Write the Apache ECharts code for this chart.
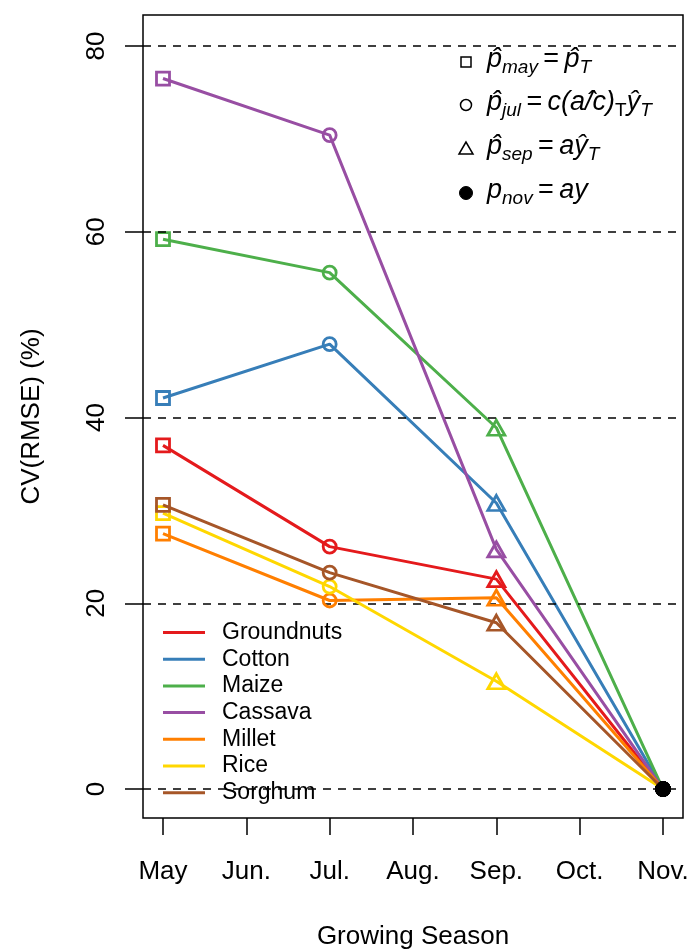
<!DOCTYPE html>
<html>
<head>
<meta charset="utf-8">
<script src="https://cdn.jsdelivr.net/npm/echarts@6/dist/echarts.min.js"></script>
<style>
html,body{margin:0;padding:0;background:#fff;}
#chart{width:692px;height:950px;}
</style>
</head>
<body>
<div id="chart"></div>
<script>
// ---- data ----
const months = ['May', 'Jun.', 'Jul.', 'Aug.', 'Sep.', 'Oct.', 'Nov.'];
const monthIdx = [0, 1, 2, 3, 4, 5, 6];
const obsIdx = [0, 2, 4, 6]; // May, Jul., Sep., Nov.
const crops = ['Groundnuts', 'Cotton', 'Maize', 'Cassava', 'Millet', 'Rice', 'Sorghum'];
const groundnuts = [37.0, 26.1, 22.6, 0];
const cotton     = [42.1, 47.9, 30.8, 0];
const maize      = [59.2, 55.6, 38.9, 0];
const cassava    = [76.5, 70.4, 25.8, 0];
const millet     = [27.5, 20.3, 20.6, 0];
const rice       = [29.7, 21.8, 11.6, 0];
const sorghum    = [30.6, 23.3, 17.9, 0];
const yTicks = [0, 20, 40, 60, 80];
const refLines = [0, 20, 40, 60, 80];

// ---- styles ----
const values = [groundnuts, cotton, maize, cassava, millet, rice, sorghum];
const colors = ['#E41A1C', '#377EB8', '#4DAF4A', '#984EA3', '#FF7F00', '#FFD700', '#A65628'];
const FONT = '"Liberation Sans", Arial, Helvetica, sans-serif';
const pointSymbols = [
  { symbol: 'rect', size: 13 },
  { symbol: 'circle', size: 13 },
  { symbol: 'triangle', size: [17, 15] },
  { symbol: 'circle', size: 15, filled: true }
];

const series = crops.map((name, i) => {
  const c = colors[i];
  const s = {
    name: name,
    type: 'line',
    z: 2 + i,
    data: values[i].map((v, k) => {
      const ps = pointSymbols[k];
      return {
        value: [obsIdx[k], v],
        symbol: ps.symbol,
        symbolSize: ps.size,
        itemStyle: ps.filled
          ? { color: '#000', borderColor: '#000', borderWidth: 1 }
          : { color: 'rgba(0,0,0,0)', borderColor: c, borderWidth: 2.8 }
      };
    }),
    showAllSymbol: true,
    lineStyle: { color: c, width: 3 },
    itemStyle: { color: c },
    emphasis: { disabled: true },
    animation: false
  };
  if (i === 0) {
    s.markLine = {
      silent: true,
      symbol: 'none',
      animation: false,
      label: { show: false },
      lineStyle: { color: '#000', width: 1.5, type: [8, 7] },
      data: refLines.map(v => ({ yAxis: v }))
    };
  }
  return s;
});

// ---- top-right legend (mathematical expressions) ----
const main = { fontFamily: FONT, fontStyle: 'italic', fontSize: 27, lineHeight: 27, verticalAlign: 'top', color: '#000' };
const up   = { fontFamily: FONT, fontSize: 27, lineHeight: 27, verticalAlign: 'top', color: '#000' };
const sub  = { fontFamily: FONT, fontStyle: 'italic', fontSize: 19, lineHeight: 19, padding: [12, 0, 0, 0], verticalAlign: 'top', color: '#000' };
const subUp = { fontFamily: FONT, fontSize: 19, lineHeight: 19, padding: [12, 0, 0, 0], verticalAlign: 'top', color: '#000' };
const rich = { m: main, u: up, s: sub, su: subUp };

const EQ = '{u|\u2009=\u2009}';
const mathRows = [
  '{m|p\u0302}{s|may}' + EQ + '{m|p\u0302}{s|T}',
  '{m|p\u0302}{s|jul}' + EQ + '{m|c(a/\u0302c)}{su|T}{m|y\u0302}{s|T}',
  '{m|p\u0302}{s|sep}' + EQ + '{m|ay\u0302}{s|T}',
  '{m|p}{s|nov}' + EQ + '{m|ay}'
];
const rowY = [62, 105, 149, 193];
const symX = 466;
const textX = 487;

const graphics = [];
// legend keys
graphics.push({ type: 'rect', shape: { x: symX - 5, y: rowY[0] - 5, width: 10, height: 10 }, style: { fill: 'none', stroke: '#000', lineWidth: 1.5 } });
graphics.push({ type: 'circle', shape: { cx: symX, cy: rowY[1], r: 5.5 }, style: { fill: 'none', stroke: '#000', lineWidth: 1.5 } });
graphics.push({ type: 'polygon', shape: { points: [[symX, rowY[2] - 7], [symX - 7, rowY[2] + 5], [symX + 7, rowY[2] + 5]] }, style: { fill: 'none', stroke: '#000', lineWidth: 1.5 } });
graphics.push({ type: 'circle', shape: { cx: symX, cy: rowY[3], r: 6.5 }, style: { fill: '#000', stroke: '#000', lineWidth: 1 } });
mathRows.forEach((t, i) => {
  graphics.push({
    type: 'text',
    x: textX,
    y: rowY[i] - 16,
    style: { text: t, rich: rich, fontFamily: FONT, fontSize: 27 }
  });
});

const chart = echarts.init(document.getElementById('chart'), null, { renderer: 'canvas' });
chart.setOption({
  backgroundColor: '#fff',
  animation: false,
  textStyle: { fontFamily: FONT },
  grid: {
    left: 143, top: 15, width: 540, height: 803,
    containLabel: false,
    outerBoundsMode: 'none',
    show: true, borderColor: '#000', borderWidth: 1.5, backgroundColor: 'transparent'
  },
  xAxis: {
    type: 'value',
    min: -0.24, max: 6.24,
    axisLine: { show: false, onZero: false },
    splitLine: { show: false },
    axisTick: { show: true, length: 17, lineStyle: { color: '#000', width: 1.5 }, customValues: monthIdx },
    axisLabel: {
      customValues: monthIdx,
      formatter: v => months[Math.round(v)],
      fontSize: 26, color: '#000', margin: 41, fontFamily: FONT
    },
    name: 'Growing Season',
    nameLocation: 'middle',
    nameGap: 106,
    nameTextStyle: { fontSize: 26, color: '#000', fontFamily: FONT }
  },
  yAxis: {
    type: 'value',
    min: -3.12, max: 83.34,
    axisLine: { show: false, onZero: false },
    splitLine: { show: false },
    axisTick: { show: true, length: 18, lineStyle: { color: '#000', width: 1.5 }, customValues: yTicks },
    axisLabel: {
      customValues: yTicks,
      rotate: 90,
      fontSize: 26, color: '#000', margin: 33, fontFamily: FONT
    },
    name: 'CV(RMSE) (%)',
    nameLocation: 'middle',
    nameGap: 98,
    nameTextStyle: { fontSize: 26, color: '#000', fontFamily: FONT }
  },
  legend: {
    orient: 'vertical',
    left: 158, top: 616,
    icon: 'rect',
    itemWidth: 42, itemHeight: 3,
    itemGap: 3.7,
    textStyle: { fontSize: 23, color: '#000', fontFamily: FONT, lineHeight: 20, padding: [0, 0, 0, 12] },
    selectedMode: false,
    data: crops.map((n, i) => ({ name: n, itemStyle: { color: colors[i], borderWidth: 0 } }))
  },
  graphic: graphics,
  series: series
});
</script>
</body>
</html>
